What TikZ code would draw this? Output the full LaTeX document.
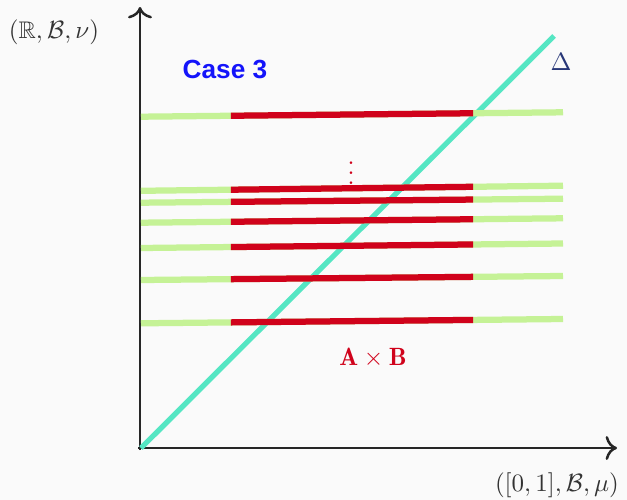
\documentclass[tikz,border=0pt]{standalone}
\usepackage{amsmath,amssymb}
\usepackage{fontspec}
\usepackage{xcolor}
\usepackage{tikz}
\usetikzlibrary{arrows.meta,calc}
\newfontfamily\casefont{Liberation Sans}

\definecolor{bgcol}{RGB}{250,250,250}
\definecolor{diagcol}{RGB}{85,230,195}
\definecolor{lightgreen}{RGB}{197,242,150}
\definecolor{prodred}{RGB}{208,2,27}
\definecolor{caseblue}{RGB}{20,20,250}
\definecolor{deltanavy}{RGB}{40,55,120}

\begin{document}
\begin{tikzpicture}[
    x=0.4pt, y=-0.4pt,
    axis/.style={line width=1pt, black!85, -{To[scale=1.2]}},
    diag/.style={line width=2.1pt, diagcol},
    slice/.style={line width=2.5pt, lightgreen},
    prod/.style={line width=2.5pt, prodred},
    lbl/.style={text=black!80, font=\normalsize}
]
% frame and background
\fill[bgcol] (0,0) rectangle (627,500);
\useasboundingbox (0,0) rectangle (627,500);

% axes
\coordinate (origin) at (140,450);
\coordinate (ytip) at (140,7);
\coordinate (xstart) at (138,448);
\coordinate (xtip) at (617,448);
\draw[axis] (origin) -- (ytip);
\draw[axis] (xstart) -- (xtip);
\node[lbl, font=\fontsize{9.6}{11}\selectfont] (ylab) at (54,32) {$(\mathbb{R},\mathcal{B},\nu)$};
\node[lbl] (xlab) at (557,485) {$([0,1],\mathcal{B},\mu)$};

% diagonal
\coordinate (dstart) at (141,448);
\coordinate (dend) at (554,36);
\draw[diag] (dstart) -- (dend);
\node[text=deltanavy] (delta) at (561,62) {$\Delta$};

% horizontal slices, red part is A x B
\foreach \yl/\yr [count=\i] in {116.7/112.3, 190.8/185.7, 202.7/198.7, 222.7/218.3, 248/243.5, 280/276, 323.3/319}{
  \coordinate (l\i) at (141,\yl);
  \coordinate (r\i) at (563,\yr);
  \draw[slice] (l\i) -- (r\i);
  \draw[prod] ($(l\i)!0.213!(r\i)$) -- ($(l\i)!0.787!(r\i)$);
}

% labels
\node[text=caseblue, font=\casefont\bfseries\fontsize{10.5}{12}\selectfont] (case) at (225,69) {Case 3};
\node[text=prodred, font=\boldmath] (dots) at (351,166) {$\vdots$};
\node[text=prodred] (AB) at (373,358) {$\mathbf{A}\times\mathbf{B}$};
\end{tikzpicture}
\end{document}
